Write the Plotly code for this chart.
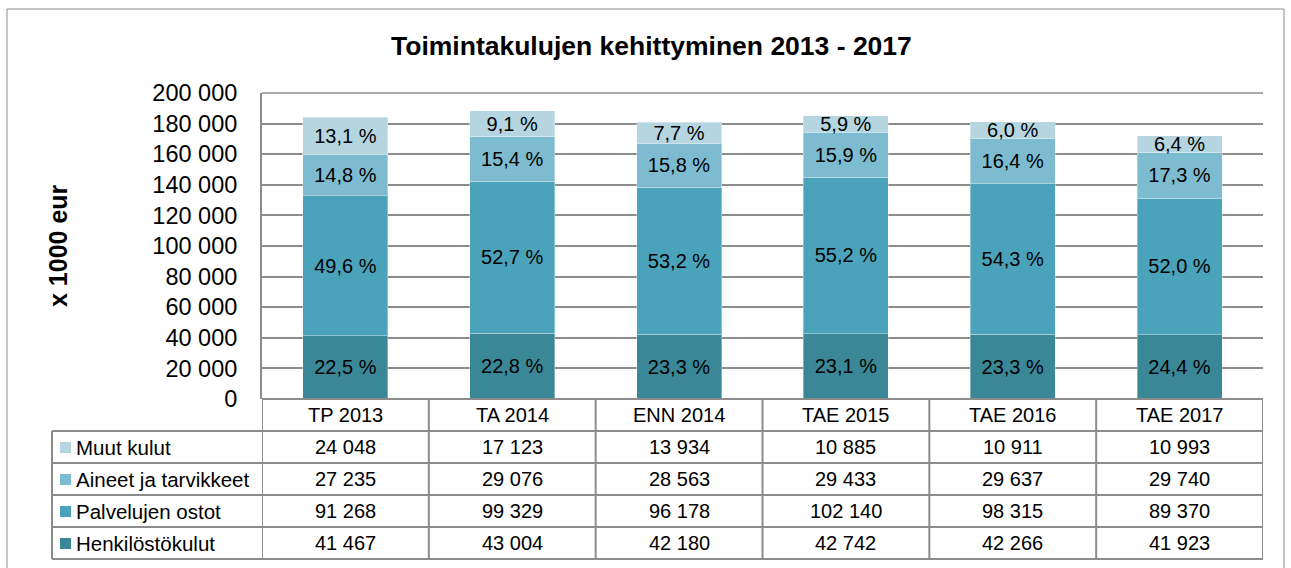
import plotly.graph_objects as go

W, H = 1291, 568

years = ['TP 2013', 'TA 2014', 'ENN 2014', 'TAE 2015', 'TAE 2016', 'TAE 2017']
henkilosto = [41467, 43004, 42180, 42742, 42266, 41923]
palvelut = [91268, 99329, 96178, 102140, 98315, 89370]
aineet = [27235, 29076, 28563, 29433, 29637, 29740]
muut = [24048, 17123, 13934, 10885, 10911, 10993]
y_ticks = [0, 20000, 40000, 60000, 80000, 100000, 120000, 140000, 160000, 180000, 200000]

# stacking order bottom -> top
series = [
    ('Henkilöstökulut', henkilosto, '#3A8798'),
    ('Palvelujen ostot', palvelut, '#4AA3BA'),
    ('Aineet ja tarvikkeet', aineet, '#7DBCD0'),
    ('Muut kulut', muut, '#B5D6E1'),
]

totals = [sum(v) for v in zip(henkilosto, palvelut, aineet, muut)]


def fi_num(v):
    return f'{v:,}'.replace(',', ' ')


def fi_pct(v, t):
    return f'{100 * v / t:.1f}'.replace('.', ',') + ' %'


def px(v):
    return v / W


def py(v):
    return 1 - v / H


FONT = 'Arial, Liberation Sans, sans-serif'
GRID = '#8c8c8c'

fig = go.Figure()
for name, vals, col in series:
    fig.add_trace(go.Bar(
        x=years, y=vals, name=name,
        marker=dict(color=col, line=dict(width=1, color='rgba(255,255,255,0.35)')),
        width=0.51,
        text=[fi_pct(v, t) for v, t in zip(vals, totals)],
        textposition='inside', insidetextanchor='middle',
        textangle=0, constraintext='none',
        textfont=dict(family=FONT, size=20, color='#000000'),
        hoverinfo='skip',
    ))

shapes = []
# outer chart border
shapes.append(dict(type='rect', xref='paper', yref='paper',
                   x0=px(7), x1=px(1284), y0=py(580), y1=py(9),
                   line=dict(color='#8c8c8c', width=1)))

# data table grid
row_tops = [399, 431, 463, 495, 527, 559]
for i, r in enumerate(row_tops):
    shapes.append(dict(type='line', xref='paper', yref='paper',
                       x0=px(262 if i == 0 else 52), x1=px(1263), y0=py(r), y1=py(r),
                       line=dict(color=GRID, width=2)))
shapes.append(dict(type='line', xref='paper', yref='paper',
                   x0=px(52), x1=px(52), y0=py(431), y1=py(559),
                   line=dict(color=GRID, width=2)))
for k in range(len(years) + 1):
    shapes.append(dict(type='line', xref='x', yref='paper',
                       x0=k - 0.5, x1=k - 0.5, y0=py(399), y1=py(559),
                       line=dict(color=GRID, width=2)))
# top border of the plot area
shapes.append(dict(type='line', xref='paper', yref='paper',
                   x0=px(262), x1=px(1263), y0=py(93), y1=py(93),
                   line=dict(color=GRID, width=1.5)))

annotations = [
    dict(text='<b>Toimintakulujen kehittyminen 2013 - 2017</b>', xref='paper', yref='paper',
         x=px(651), y=py(46), xanchor='center', yanchor='middle', showarrow=False,
         font=dict(family=FONT, size=26.5, color='#000')),
    dict(text='<b>x 1000 eur</b>', xref='paper', yref='paper', textangle=-90,
         x=px(58), y=py(246), xanchor='center', yanchor='middle', showarrow=False,
         font=dict(family=FONT, size=25, color='#000')),
]
for k, yr in enumerate(years):
    annotations.append(dict(text=yr, xref='x', yref='paper', x=k, y=py(415),
                            xanchor='center', yanchor='middle', showarrow=False,
                            font=dict(family=FONT, size=20, color='#000')))

# table rows: top row is the top series
for j, (name, vals, col) in enumerate(reversed(series)):
    cy = (row_tops[j + 1] + row_tops[j + 2]) / 2
    shapes.append(dict(type='rect', xref='paper', yref='paper',
                       x0=px(60), x1=px(71), y0=py(cy + 6), y1=py(cy - 5),
                       fillcolor=col, line=dict(width=0)))
    annotations.append(dict(text=name, xref='paper', yref='paper', x=px(74), y=py(cy),
                            xanchor='left', yanchor='middle', showarrow=False,
                            font=dict(family=FONT, size=20.5, color='#000')))
    for k, v in enumerate(vals):
        annotations.append(dict(text=fi_num(v), xref='x', yref='paper', x=k, y=py(cy),
                                xanchor='center', yanchor='middle', showarrow=False,
                                font=dict(family=FONT, size=20, color='#000')))

fig.update_layout(
    width=W, height=H,
    barmode='stack', bargap=0.49,
    showlegend=False,
    paper_bgcolor='white', plot_bgcolor='white',
    margin=dict(l=0, r=0, t=0, b=0, pad=0),
    uniformtext=dict(minsize=20, mode='show'),
    xaxis=dict(domain=[px(262), px(1263)], showticklabels=False, showgrid=False,
               showline=False, zeroline=False, range=[-0.5, 5.5], automargin=False),
    yaxis=dict(domain=[py(399), py(93)], range=[0, 200000], tickvals=y_ticks,
               ticktext=[fi_num(t) for t in y_ticks], ticklabelstandoff=18,
               tickfont=dict(family=FONT, size=23.5, color='#000'),
               showgrid=True, gridcolor=GRID, gridwidth=1.5, automargin=False,
               showline=True, linecolor=GRID, linewidth=2, zeroline=False),
    shapes=shapes,
    annotations=annotations,
)

fig.write_html('out.html', config={'displayModeBar': False},
               post_script="document.body.style.margin='0';")
